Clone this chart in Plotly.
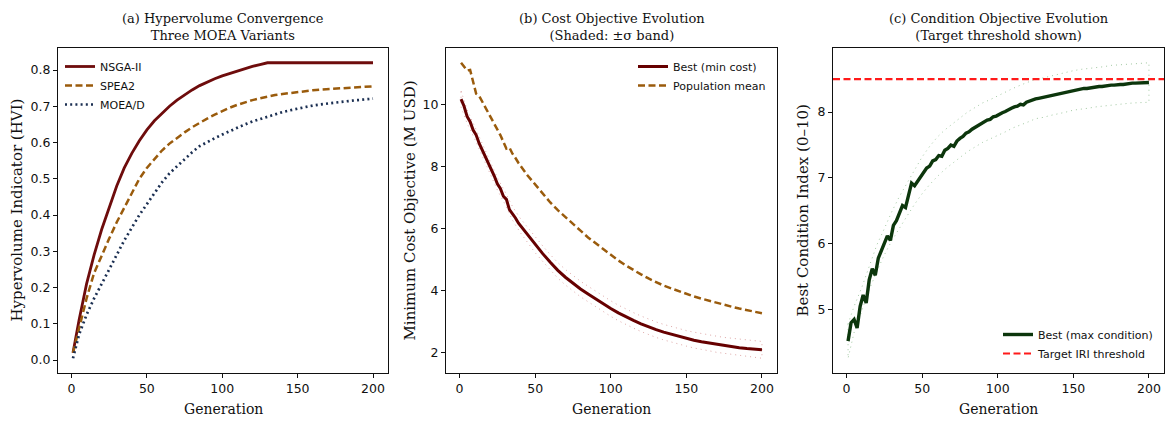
import plotly.graph_objects as go

# ---------------- data ----------------
GEN = [1] + list(range(5, 201, 5))

HV_NSGA2 = [0.02, 0.11, 0.21, 0.29, 0.36, 0.42, 0.48, 0.53, 0.57, 0.605, 0.635,
            0.66, 0.68, 0.70, 0.717, 0.732, 0.745, 0.757, 0.767, 0.776, 0.784,
            0.791, 0.798, 0.804, 0.81, 0.815, 0.82, 0.82, 0.82, 0.82, 0.82,
            0.82, 0.82, 0.82, 0.82, 0.82, 0.82, 0.82, 0.82, 0.82, 0.82]
HV_SPEA2 = [0.02, 0.09, 0.17, 0.24, 0.29, 0.335, 0.38, 0.42, 0.46, 0.50, 0.53,
            0.555, 0.578, 0.597, 0.613, 0.628, 0.642, 0.655, 0.666, 0.677, 0.687,
            0.696, 0.704, 0.711, 0.717, 0.722, 0.727, 0.731, 0.734, 0.737, 0.740,
            0.742, 0.744, 0.746, 0.747, 0.749, 0.750, 0.751, 0.752, 0.753, 0.755]
HV_MOEAD = [0.005, 0.07, 0.125, 0.17, 0.21, 0.25, 0.29, 0.33, 0.365, 0.40, 0.43,
            0.46, 0.49, 0.515, 0.535, 0.555, 0.573, 0.59, 0.602, 0.612, 0.622,
            0.632, 0.642, 0.65, 0.658, 0.665, 0.672, 0.678, 0.684, 0.689, 0.694,
            0.698, 0.702, 0.705, 0.708, 0.711, 0.713, 0.715, 0.717, 0.719, 0.721]

GEN_COST = [1, 3, 5, 7, 9, 11, 13, 15, 17, 19, 21, 23, 25, 27, 29, 31, 33, 35, 37, 39,
            45, 50, 55, 60, 65, 70, 75, 80, 85, 90, 95, 100, 105, 110, 115, 120, 125,
            130, 135, 140, 145, 150, 155, 160, 165, 170, 175, 180, 185, 190, 195, 200]
COST_BEST = [10.18, 9.95, 9.62, 9.45, 9.18, 9.02, 8.75, 8.55, 8.30, 8.12, 7.92, 7.70,
             7.45, 7.30, 7.05, 6.95, 6.62, 6.50, 6.35, 6.18,
             5.80, 5.48, 5.20, 4.92, 4.66, 4.44, 4.24, 4.06, 3.90, 3.74, 3.58, 3.43,
             3.29, 3.16, 3.05, 2.94, 2.84, 2.75, 2.67, 2.60, 2.53, 2.47, 2.41, 2.36,
             2.32, 2.27, 2.23, 2.20, 2.17, 2.14, 2.12, 2.10]
COST_MEAN = [11.35, 11.22, 11.10, 11.12, 10.75, 10.35, 10.28, 10.10, 9.90, 9.72, 9.58,
             9.38, 9.20, 9.02, 8.80, 8.58, 8.62, 8.42, 8.28, 8.12,
             7.72, 7.42, 7.13, 6.85, 6.60, 6.37, 6.15, 5.94, 5.72, 5.53, 5.34, 5.16,
             4.98, 4.82, 4.67, 4.53, 4.40, 4.28, 4.17, 4.08, 3.99, 3.90, 3.82, 3.75,
             3.68, 3.61, 3.55, 3.49, 3.43, 3.38, 3.33, 3.28]
COST_BAND_HI = [10.44, 9.84, 9.30, 8.75, 8.22, 7.65, 7.20, 6.72, 6.35, 6.04, 5.73,
                5.45, 5.17, 4.91, 4.69, 4.49, 4.31, 4.15, 3.99, 3.83, 3.68, 3.54,
                3.41, 3.30, 3.19, 3.09, 3.00, 2.92, 2.85, 2.78, 2.72, 2.67, 2.62,
                2.58, 2.54, 2.50, 2.47, 2.44, 2.41, 2.39, 2.37]
COST_BAND_LO = [9.92, 9.40, 8.90, 8.35, 7.82, 7.25, 6.80, 6.28, 5.89, 5.56, 5.23,
                4.95, 4.67, 4.41, 4.19, 3.99, 3.81, 3.65, 3.49, 3.33, 3.18, 3.04,
                2.91, 2.80, 2.69, 2.59, 2.50, 2.42, 2.35, 2.28, 2.22, 2.16, 2.11,
                2.07, 2.02, 1.98, 1.94, 1.91, 1.88, 1.86, 1.83]

GEN_COND = list(range(1, 200, 2)) + [200]
COND_BEST = [4.52, 4.80, 4.85, 4.72, 5.05, 5.22, 5.10, 5.45, 5.62, 5.52,
             5.78, 5.90, 6.02, 6.12, 6.05, 6.28, 6.35, 6.48, 6.58, 6.55,
             6.72, 6.92, 6.88, 6.95, 7.02, 7.08, 7.15, 7.18, 7.26, 7.28,
             7.34, 7.33, 7.42, 7.45, 7.50, 7.48, 7.56, 7.60, 7.63, 7.68,
             7.70, 7.74, 7.77, 7.80, 7.83, 7.85, 7.88, 7.89, 7.93, 7.94,
             7.97, 7.99, 8.01, 8.04, 8.06, 8.08, 8.09, 8.12, 8.11, 8.15,
             8.17, 8.18, 8.20, 8.21, 8.22, 8.23, 8.25, 8.26, 8.27, 8.28,
             8.29, 8.30, 8.31, 8.32, 8.33, 8.34, 8.34, 8.35, 8.36, 8.36,
             8.37, 8.37, 8.38, 8.39, 8.39, 8.40, 8.40, 8.41, 8.41, 8.42,
             8.42, 8.42, 8.43, 8.43, 8.44, 8.44, 8.44, 8.45, 8.45, 8.45, 8.45]
COND_BAND_HI = [4.78, 5.05, 5.33, 5.66, 5.98, 6.23, 6.49, 6.72, 6.92, 7.14, 7.32,
                7.48, 7.62, 7.73, 7.82, 7.91, 8.00, 8.07, 8.14, 8.19, 8.25, 8.30,
                8.36, 8.41, 8.45, 8.50, 8.52, 8.55, 8.58, 8.60, 8.63, 8.65, 8.66,
                8.68, 8.69, 8.71, 8.72, 8.73, 8.74, 8.75, 8.75]
COND_BAND_LO = [4.26, 4.65, 4.97, 5.30, 5.58, 5.83, 6.05, 6.24, 6.42, 6.60, 6.76,
                6.90, 7.02, 7.13, 7.22, 7.31, 7.40, 7.47, 7.54, 7.59, 7.65, 7.70,
                7.76, 7.81, 7.85, 7.90, 7.92, 7.95, 7.98, 8.00, 8.03, 8.05, 8.06,
                8.08, 8.09, 8.11, 8.12, 8.13, 8.14, 8.15, 8.15]
TARGET_IRI = 8.5

X_TICKS = [0, 50, 100, 150, 200]

# ---------------- styling ----------------
W, H = 1165, 421
SERIF = "DejaVu Serif"
SANS = "DejaVu Sans"
INK = "#111111"

C_NSGA = "#6e0c0c"
C_SPEA = "#9a5b0c"
C_MOEAD = "#1b2f52"
C_BEST_COST = "#660000"
C_COST_BAND = "rgba(200,110,110,0.6)"
C_BEST_COND = "#0c360c"
C_COND_BAND = "rgba(110,170,110,0.65)"

# plot-area boxes in pixels: (left, right)
BOX_X = [(58, 388), (446, 777), (833, 1164)]
BOX_TOP, BOX_BOT = 48, 373


def px_x(v):
    return v / W


def px_y(v):
    return 1 - v / H


def padded(values):
    lo, hi = min(values), max(values)
    pad = 0.05 * (hi - lo)
    return [lo - pad, hi + pad]


def band_outline(xs, hi, lo):
    return xs + xs[::-1] + [xs[0]], hi + lo[::-1] + [hi[0]]


fig = go.Figure()

# (a) hypervolume
fig.add_trace(go.Scatter(x=GEN, y=HV_NSGA2, mode="lines", name="NSGA-II",
                         line=dict(color=C_NSGA, width=2.8),
                         xaxis="x", yaxis="y", legend="legend"))
fig.add_trace(go.Scatter(x=GEN, y=HV_SPEA2, mode="lines", name="SPEA2",
                         line=dict(color=C_SPEA, width=2.5, dash="7px,3.5px"),
                         xaxis="x", yaxis="y", legend="legend"))
fig.add_trace(go.Scatter(x=GEN, y=HV_MOEAD, mode="lines", name="MOEA/D",
                         line=dict(color=C_MOEAD, width=2.7, dash="2px,3.2px"),
                         xaxis="x", yaxis="y", legend="legend"))

# (b) cost
bx, by = band_outline(GEN, COST_BAND_HI, COST_BAND_LO)
fig.add_trace(go.Scatter(x=bx, y=by, mode="lines", showlegend=False,
                         line=dict(color=C_COST_BAND, width=1, dash="1px,4px"),
                         xaxis="x2", yaxis="y2"))
fig.add_trace(go.Scatter(x=GEN_COST, y=COST_BEST, mode="lines", name="Best (min cost)",
                         line=dict(color=C_BEST_COST, width=3),
                         xaxis="x2", yaxis="y2", legend="legend2"))
fig.add_trace(go.Scatter(x=GEN_COST, y=COST_MEAN, mode="lines", name="Population mean",
                         line=dict(color=C_SPEA, width=2.5, dash="7px,3.5px"),
                         xaxis="x2", yaxis="y2", legend="legend2"))

# (c) condition
cx, cy = band_outline(GEN, COND_BAND_HI, COND_BAND_LO)
fig.add_trace(go.Scatter(x=cx, y=cy, mode="lines", showlegend=False,
                         line=dict(color=C_COND_BAND, width=1, dash="1px,4px"),
                         xaxis="x3", yaxis="y3"))
fig.add_trace(go.Scatter(x=GEN_COND, y=COND_BEST, mode="lines", name="Best (max condition)",
                         line=dict(color=C_BEST_COND, width=3.4),
                         xaxis="x3", yaxis="y3", legend="legend3"))
x_range = padded(GEN)
fig.add_trace(go.Scatter(x=x_range, y=[TARGET_IRI, TARGET_IRI], mode="lines",
                         name="Target IRI threshold",
                         line=dict(color="#ff1a1a", width=2.2, dash="7px,3.5px"),
                         xaxis="x3", yaxis="y3", legend="legend3"))

axis_common = dict(showline=True, linecolor=INK, linewidth=1.2, mirror=True,
                   ticks="outside", ticklen=4, tickwidth=1.1, tickcolor=INK,
                   showgrid=False, zeroline=False,
                   tickfont=dict(family=SANS, size=12.5, color=INK))

y_dom = [px_y(BOX_BOT), px_y(BOX_TOP)]
ranges_y = [
    padded(HV_NSGA2 + HV_SPEA2 + HV_MOEAD),
    padded(COST_BEST + COST_MEAN + COST_BAND_HI + COST_BAND_LO),
    padded(COND_BEST + COND_BAND_HI + COND_BAND_LO + [TARGET_IRI]),
]
y_ticks = [
    dict(tickvals=[0.0, 0.1, 0.2, 0.3, 0.4, 0.5, 0.6, 0.7, 0.8], tickformat=".1f"),
    dict(tickvals=[2, 4, 6, 8, 10]),
    dict(tickvals=[5, 6, 7, 8]),
]

layout = dict(width=W, height=H, margin=dict(l=0, r=0, t=0, b=0),
              paper_bgcolor="white", plot_bgcolor="white", showlegend=True)

for i, (l, r) in enumerate(BOX_X):
    sfx = "" if i == 0 else str(i + 1)
    layout["xaxis" + sfx] = dict(axis_common, domain=[px_x(l), px_x(r)],
                                 anchor="y" + sfx, range=x_range, tickvals=X_TICKS)
    layout["yaxis" + sfx] = dict(axis_common, domain=y_dom, anchor="x" + sfx,
                                 range=ranges_y[i], **y_ticks[i])

legend_common = dict(bgcolor="rgba(255,255,255,0)", borderwidth=0,
                     font=dict(family=SANS, size=11, color=INK),
                     itemwidth=30, tracegroupgap=0)
layout["legend"] = dict(legend_common, x=px_x(60), y=px_y(52),
                        xanchor="left", yanchor="top")
layout["legend2"] = dict(legend_common, x=px_x(771), y=px_y(52),
                         xanchor="right", yanchor="top")
layout["legend3"] = dict(legend_common, x=px_x(1158), y=px_y(368),
                         xanchor="right", yanchor="bottom")

titles = [
    "(a) Hypervolume Convergence<br>Three MOEA Variants",
    "(b) Cost Objective Evolution<br>(Shaded: ±σ band)",
    "(c) Condition Objective Evolution<br>(Target threshold shown)",
]
y_labels = [
    ("Hypervolume Indicator (HVI)", 16),
    ("Minimum Cost Objective (M USD)", 409),
    ("Best Condition Index (0–10)", 802),
]

annotations = []
for i, (l, r) in enumerate(BOX_X):
    cxp = (l + r) / 2
    annotations.append(dict(text=titles[i], xref="paper", yref="paper",
                            x=px_x(cxp), y=px_y(27), xanchor="center", yanchor="middle",
                            showarrow=False, font=dict(family=SERIF, size=13, color=INK)))
    annotations.append(dict(text="Generation", xref="paper", yref="paper",
                            x=px_x(cxp), y=px_y(409), xanchor="center", yanchor="middle",
                            showarrow=False, font=dict(family=SERIF, size=14, color=INK)))
    lab, lx = y_labels[i]
    annotations.append(dict(text=lab, xref="paper", yref="paper", textangle=-90,
                            x=px_x(lx), y=px_y((BOX_TOP + BOX_BOT) / 2),
                            xanchor="center", yanchor="middle", showarrow=False,
                            font=dict(family=SERIF, size=15, color=INK)))
layout["annotations"] = annotations

fig.update_layout(**layout)
fig.write_html("out.html")
